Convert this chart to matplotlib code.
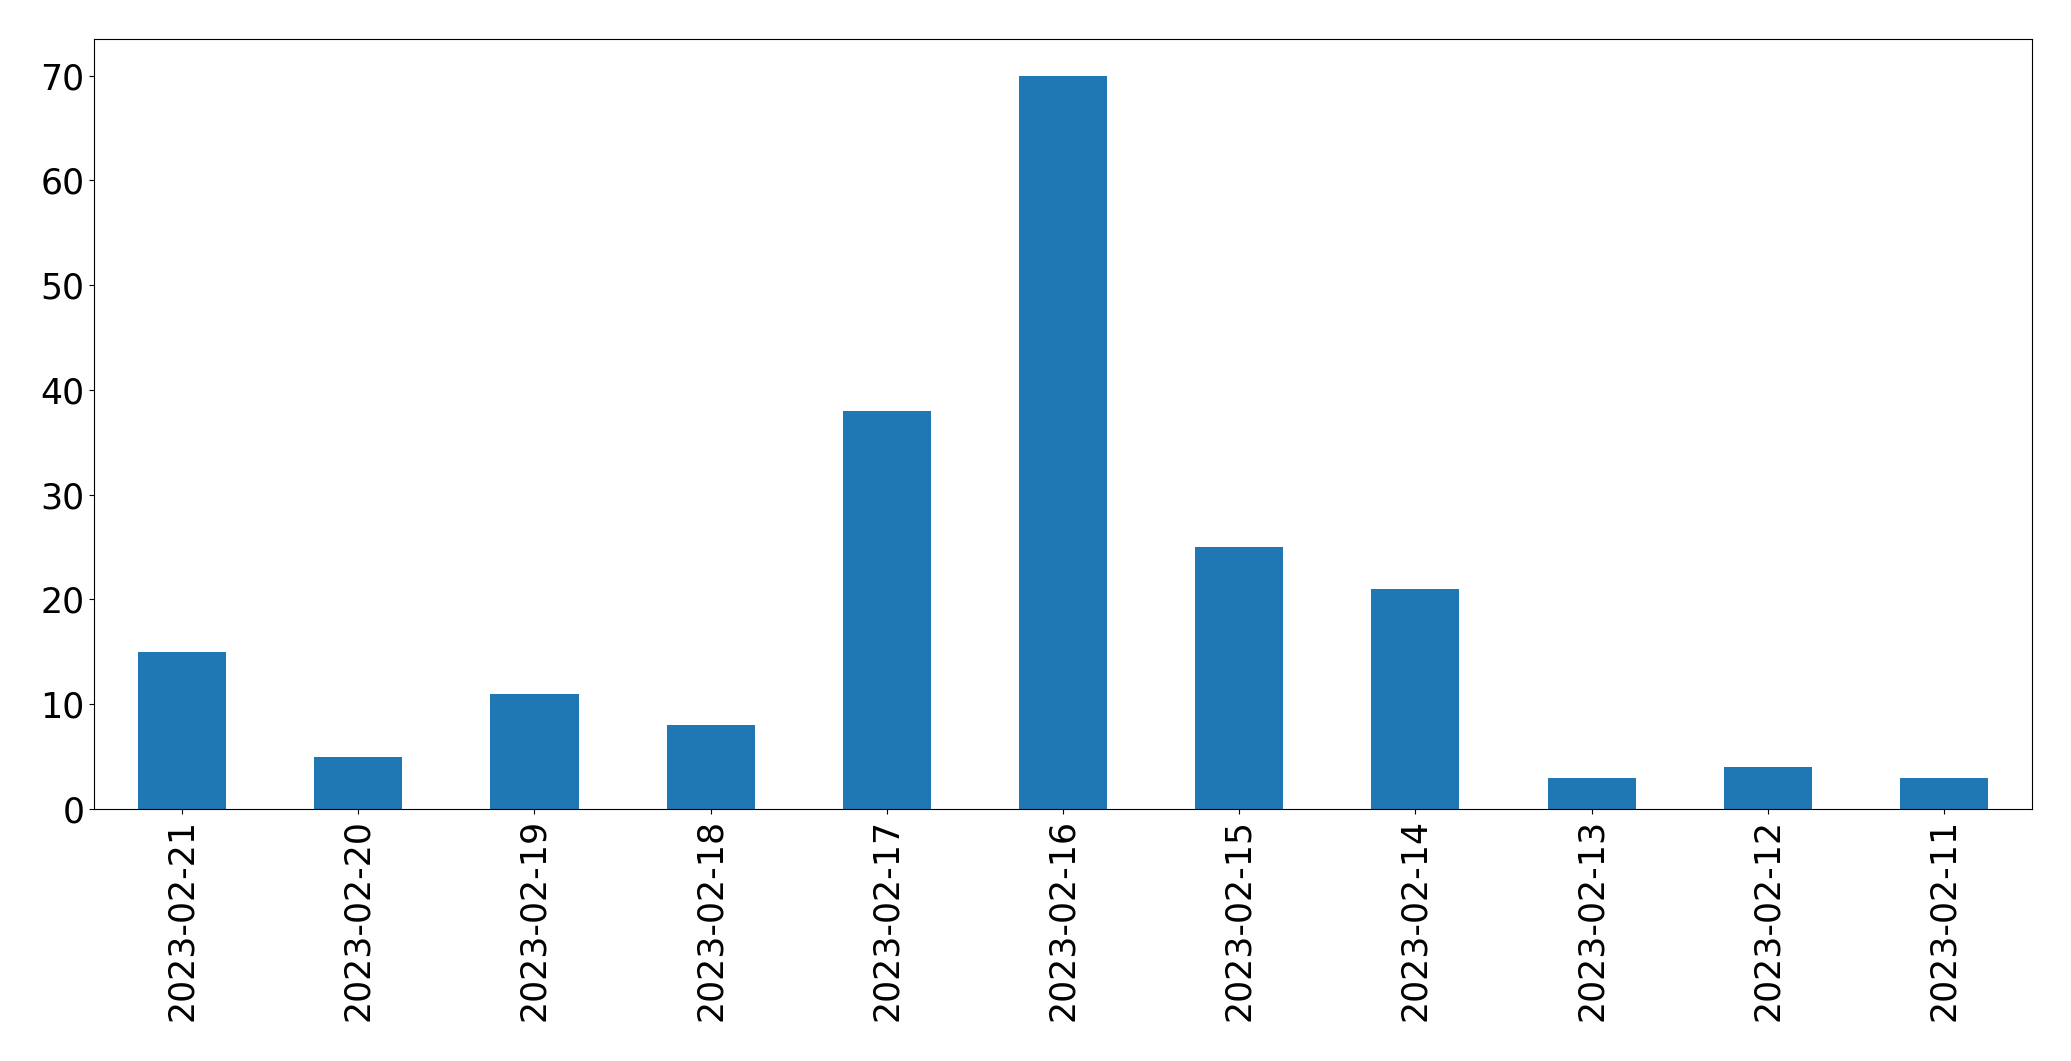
import pandas as pd
import matplotlib.pyplot as plt

dates = ['2023-02-21', '2023-02-20', '2023-02-19', '2023-02-18', '2023-02-17',
         '2023-02-16', '2023-02-15', '2023-02-14', '2023-02-13', '2023-02-12',
         '2023-02-11']
counts = [15, 5, 11, 8, 38, 70, 25, 21, 3, 4, 3]

data = pd.Series(counts, index=dates)

fig = plt.figure(figsize=(20.71, 10.61), dpi=100)
ax = fig.add_axes([94 / 2071, 1 - 809 / 1061, (2032 - 94) / 2071, (809 - 39) / 1061])

data.plot(kind='bar', ax=ax, color='#1f77b4', fontsize=25)

plt.savefig('out.png', dpi=100)
